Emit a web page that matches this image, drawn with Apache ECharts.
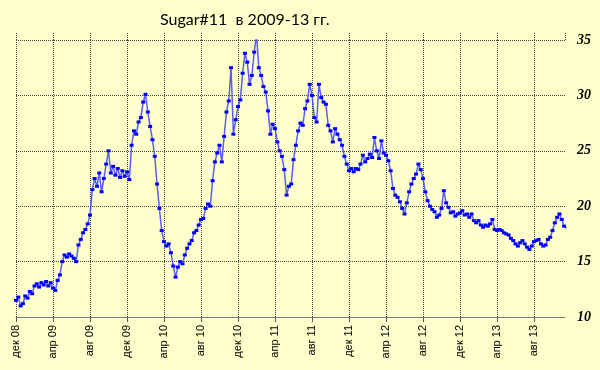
<!DOCTYPE html>
<html>
<head>
<meta charset="utf-8">
<script src="https://cdn.jsdelivr.net/npm/echarts@6/dist/echarts.min.js"></script>
<style>
html,body{margin:0;padding:0;background:#FFFFCC;}
#chart{width:600px;height:370px;}
</style>
</head>
<body>
<div id="chart"></div>
<script>
// Tick labels for x axis (every 4 months starting Dec 2008)
const monthLabels = ['дек 08','апр 09','авг 09','дек 09','апр 10','авг 10','дек 10','апр 11','авг 11','дек 11','апр 12','авг 12','дек 12','апр 13','авг 13'];
// Sampling step of the price series, in months from 1 Dec 2008
const stepMonths = 0.25;
// Sugar #11 prices, cents/lb (one value per quarter month)
const prices = [
  11.5, 11.8, 11.0, 11.2,
  11.9, 11.7, 12.3, 12.1,
  12.8, 13.0, 12.7, 13.1,
  12.9, 13.2, 12.8, 13.1,
  12.6, 12.4, 13.3, 13.8,
  15.0, 15.6, 15.4, 15.7,
  15.5, 15.3, 15.0, 16.5,
  17.0, 17.6, 17.9, 18.4,
  19.2, 21.5, 22.5, 21.8,
  23.0, 21.3, 22.5, 23.8,
  25.0, 23.0, 23.6, 22.8,
  23.4, 22.6, 23.2, 22.7,
  23.1, 22.4, 25.5, 26.8,
  26.5, 27.6, 28.0, 29.4,
  30.1, 28.5, 27.2, 26.0,
  24.5, 22.0, 19.8, 17.8,
  16.8, 16.4, 16.6, 15.8,
  14.6, 13.6, 14.5, 15.0,
  14.8, 15.6, 16.2, 16.6,
  16.9, 17.6, 17.8, 18.3,
  18.8, 18.9, 19.8, 20.2,
  20.0, 22.3, 24.0, 24.8,
  25.5, 24.0, 26.3, 28.5,
  29.5, 32.5, 26.5, 27.8,
  29.0, 29.6, 32.0, 33.8,
  33.0, 31.0, 31.8, 33.9,
  35.5, 32.5, 31.8, 30.8,
  30.3, 28.6, 26.5, 27.4,
  27.0, 25.8, 25.0, 24.5,
  23.3, 21.0, 21.8, 22.0,
  24.2, 25.5, 26.8, 27.5,
  27.3, 28.8, 29.5, 31.0,
  30.0, 28.0, 27.6, 31.0,
  29.8, 29.4, 29.2, 27.3,
  26.8, 25.8, 27.0, 26.5,
  26.0, 25.5, 24.5, 23.8,
  23.2, 23.4, 23.1, 23.4,
  23.3, 23.8, 24.6, 24.0,
  24.3, 24.7, 24.4, 26.2,
  25.0, 24.3, 25.9, 24.8,
  24.6, 24.1, 23.2, 21.6,
  21.0, 20.8, 20.4, 19.8,
  19.3, 20.3, 21.3, 22.0,
  22.5, 22.9, 23.8, 23.3,
  22.5, 21.3, 20.5, 20.0,
  19.7, 19.5, 19.0, 19.2,
  19.8, 21.4, 20.3, 19.9,
  19.4, 19.5, 19.1, 19.3,
  19.4, 19.6, 19.2, 19.3,
  19.0, 19.3, 18.7, 18.5,
  18.7, 18.3, 18.1, 18.3,
  18.2, 18.4, 18.8, 17.9,
  17.8, 17.9, 17.8, 17.6,
  17.5, 17.4, 17.1, 16.9,
  16.6, 16.4, 16.7, 16.9,
  16.6, 16.3, 16.1, 16.4,
  16.8, 16.9, 17.0, 16.6,
  16.4, 16.5, 17.0, 17.2,
  17.8, 18.5, 19.0, 19.3,
  18.8, 18.2, 18.0
];
const titleText = 'Sugar#11  в 2009-13 гг.';

const seriesData = prices.map((v, i) => [i * stepMonths, v]);
const xMax = 59.35;
const chart = echarts.init(document.getElementById('chart'), null, {renderer: 'canvas'});
const gridLine = {color: '#444', width: 1, type: [1, 1]};
chart.setOption({
  backgroundColor: '#FFFFCC',
  animation: false,
  title: {
    text: titleText,
    left: 155, top: 7,
    textStyle: {fontFamily: 'Lato', fontWeight: 'normal', fontSize: 16, color: '#000'}
  },
  grid: {left: 16, right: 35, top: 40, bottom: 53},
  xAxis: [{
    type: 'value', min: 0, max: xMax, interval: 4, position: 'bottom',
    axisLine: {show: true, lineStyle: {color: '#808080', width: 1}},
    axisTick: {show: true, length: 5, lineStyle: {color: '#555'}},
    splitLine: {show: true, showMaxLine: false, lineStyle: gridLine},
    axisLabel: {
      rotate: 90, margin: 8, color: '#000', fontFamily: 'Liberation Sans', fontSize: 11,
      showMaxLabel: false,
      formatter: v => { const k = Math.round(v / 4); return (Math.abs(v - k * 4) < 1e-6 && monthLabels[k]) ? monthLabels[k] : ''; }
    }
  }, {
    type: 'value', min: 0, max: xMax, interval: 4, position: 'top',
    axisLine: {show: false},
    axisTick: {show: true, length: 7, lineStyle: gridLine},
    splitLine: {show: false},
    axisLabel: {show: false}
  }],
  yAxis: {
    type: 'value', min: 10, max: 35, interval: 5, position: 'right',
    axisLine: {show: false}, axisTick: {show: false},
    splitLine: {show: true, lineStyle: gridLine},
    axisLabel: {margin: 12, color: '#000', fontFamily: 'Liberation Serif', fontStyle: 'italic', fontWeight: 'bold', fontSize: 14}
  },
  series: [{
    type: 'line', xAxisIndex: 0, data: seriesData,
    symbol: 'rect', symbolSize: [4, 3], showAllSymbol: true,
    itemStyle: {color: '#0000FF'},
    lineStyle: {color: '#4040FF', width: 1.5, opacity: 0.85}
  }]
});
</script>
</body>
</html>
